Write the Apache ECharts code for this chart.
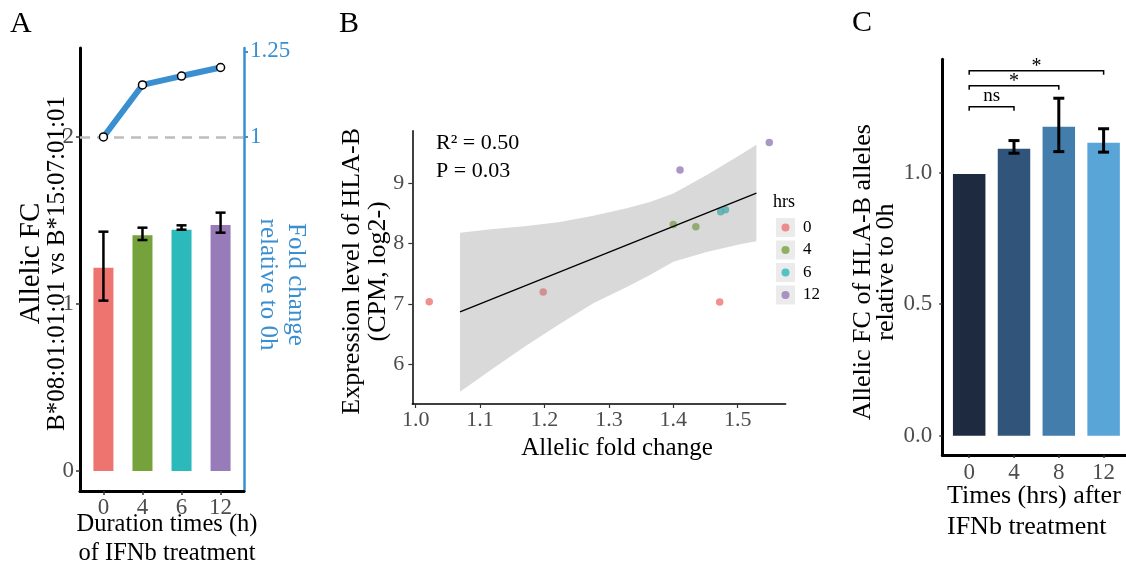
<!DOCTYPE html>
<html><head><meta charset="utf-8">
<script src="https://cdn.jsdelivr.net/npm/echarts@6/dist/echarts.min.js"></script>
<style>html,body{margin:0;padding:0;background:#fff}#c{width:1126px;height:567px}</style>
</head><body><div id="c"></div>
<script>
// ---------- Panel A data ----------
const catsA = ['0', '4', '6', '12'];
const allelicFC_A = [1.217, 1.411, 1.445, 1.473];
const errLow_A = [1.02, 1.383, 1.445, 1.427];
const errHigh_A = [1.433, 1.457, 1.471, 1.547];
const foldChange_A = [1.0, 1.152, 1.178, 1.203];
const leftTicks_A = [0, 1, 2];
const rightTicks_A = [1, 1.25];

// ---------- Panel B data ----------
const hrs_B = ['0', '4', '6', '12'];
const pts_h0 = [[1.021, 7.033], [1.198, 7.194], [1.472, 7.03]];
const pts_h4 = [[1.400, 8.316], [1.435, 8.28]];
const pts_h6 = [[1.4736, 8.528], [1.481, 8.56]];
const pts_h12 = [[1.4104, 9.22], [1.549, 9.68]];
const fitX_B = [1.0688, 1.529];
const fitY_B = [6.867, 8.839];
const bandX_B = [1.0688, 1.1205, 1.1724, 1.2241, 1.2758, 1.3276, 1.3638, 1.40, 1.4519, 1.5036, 1.529];
const bandUpper_B = [8.18, 8.24, 8.29, 8.36, 8.46, 8.585, 8.69, 8.83, 9.14, 9.47, 9.64];
const bandLower_B = [5.54, 5.93, 6.31, 6.67, 7.01, 7.28, 7.48, 7.70, 7.86, 7.99, 8.04];
const xTicks_B = [1.0, 1.1, 1.2, 1.3, 1.4, 1.5];
const yTicks_B = [6, 7, 8, 9];

// ---------- Panel C data ----------
const catsC = ['0', '4', '8', '12'];
const allelicFC_C = [0.995, 1.091, 1.175, 1.114];
const errLow_C = [null, 1.074, 1.080, 1.078];
const errHigh_C = [null, 1.122, 1.283, 1.167];
const yTicks_C = [0, 0.5, 1.0];
const sigFrom_C = [0, 0, 0];
const sigTo_C = [1, 2, 3];
const sigY_C = [1.251, 1.33, 1.387];
const sigLabel_C = ['ns', '*', '*'];

// ---------- styles ----------
const FONT = 'Liberation Serif';
const GREY = '#4d4d4d';
const BLUE = '#3a8fd0';
const paletteHrs = ['#ee7470', '#76a23b', '#2bb9bb', '#977cb9'];
const paletteC = ['#1e2a40', '#30547a', '#437dab', '#5aa5d8'];

function errBar(capHalf, lw) {
  return function (params, api) {
    const lo = api.value(1), hi = api.value(2);
    if (lo == null || isNaN(lo)) return null;
    const a = api.coord([api.value(0), lo]);
    const b = api.coord([api.value(0), hi]);
    const st = { stroke: '#000', lineWidth: lw };
    return { type: 'group', children: [
      { type: 'line', shape: { x1: a[0], y1: a[1], x2: b[0], y2: b[1] }, style: st },
      { type: 'line', shape: { x1: a[0] - capHalf, y1: a[1], x2: a[0] + capHalf, y2: a[1] }, style: st },
      { type: 'line', shape: { x1: b[0] - capHalf, y1: b[1], x2: b[0] + capHalf, y2: b[1] }, style: st }
    ] };
  };
}

function bandRender(params, api) {
  if (params.dataIndex !== 0) return null;
  const up = bandX_B.map((x, i) => api.coord([x, bandUpper_B[i]]));
  const lo = bandX_B.map((x, i) => api.coord([x, bandLower_B[i]])).reverse();
  return { type: 'polygon', shape: { points: up.concat(lo) }, style: { fill: 'rgba(150,150,150,0.36)' } };
}

function sigRender(params, api) {
  const i = params.dataIndex;
  const a = api.coord([api.value(0), api.value(2)]);
  const b = api.coord([api.value(1), api.value(2)]);
  const drop = 4;
  const lab = sigLabel_C[i];
  return { type: 'group', children: [
    { type: 'polyline', shape: { points: [[a[0], a[1] + drop], [a[0], a[1]], [b[0], b[1]], [b[0], b[1] + drop]] },
      style: { stroke: '#000', lineWidth: 1.5, fill: 'none' } },
    { type: 'text', x: (a[0] + b[0]) / 2, y: a[1] - (lab === 'ns' ? 11 : 4),
      style: { text: lab, fontFamily: FONT, fontSize: lab === 'ns' ? 19 : 20, fill: '#000', align: 'center', verticalAlign: 'middle' } }
  ] };
}

const tickLabel = (extra) => Object.assign({ fontFamily: FONT, fontSize: 23, color: GREY, lineHeight: 23 }, extra);
const lineOff = (color, width) => ({ show: true, onZero: false, lineStyle: { color, width } });

const option = {
  animation: false,
  textStyle: { fontFamily: FONT },
  title: [
    { text: 'A', left: 10, top: 9, padding: 0, textStyle: { fontFamily: FONT, fontSize: 30, lineHeight: 30, fontWeight: 'normal', color: '#000' } },
    { text: 'B', left: 339, top: 9, padding: 0, textStyle: { fontFamily: FONT, fontSize: 30, lineHeight: 30, fontWeight: 'normal', color: '#000' } },
    { text: 'C', left: 852, top: 8, padding: 0, textStyle: { fontFamily: FONT, fontSize: 30, lineHeight: 30, fontWeight: 'normal', color: '#000' } },
    { text: 'R² = 0.50\nP = 0.03', left: 436, top: 129, padding: 0, textStyle: { fontFamily: FONT, fontSize: 22, lineHeight: 28, fontWeight: 'normal', color: '#000' } },
    { text: 'hrs', left: 773, top: 193, padding: 0, textStyle: { fontFamily: FONT, fontSize: 18, lineHeight: 18, fontWeight: 'normal', color: '#000' } },
    { text: 'Times (hrs) after\nIFNb treatment', left: 947, top: 481, padding: 0, textStyle: { fontFamily: FONT, fontSize: 26, lineHeight: 31, fontWeight: 'normal', color: '#000' } }
  ],
  legend: {
    orient: 'vertical', left: 781.5, top: 218, padding: 0, itemWidth: 8, itemHeight: 8, itemGap: 3.5,
    icon: 'circle', data: hrs_B, selectedMode: false, z: 5,
    formatter: name => '\u2002' + name,
    textStyle: { fontFamily: FONT, fontSize: 17, color: '#000', lineHeight: 19 }
  },
  graphic: hrs_B.map((h, i) => ({ type: 'rect', left: 776, top: 218 + i * 22.5, z: 1,
    shape: { width: 19, height: 19 }, style: { fill: '#ebebeb' } })),
  grid: [
    { left: 80, top: 48, width: 164, height: 443, outerBoundsMode: 'none', containLabel: false },
    { left: 412.3, top: 130.7, width: 373.4, height: 273.3, outerBoundsMode: 'none', containLabel: false },
    { left: 942.3, top: 59.3, width: 188.2, height: 395.7, outerBoundsMode: 'none', containLabel: false }
  ],
  xAxis: [
    { gridIndex: 0, type: 'value', min: -0.6, max: 3.6, splitLine: { show: false },
      axisLine: lineOff('#000', 3),
      axisTick: { customValues: [0, 1, 2, 3], length: 4, lineStyle: { color: '#333', width: 1.5 } },
      axisLabel: tickLabel({ customValues: [0, 1, 2, 3], formatter: v => catsA[Math.round(v)], margin: 5 }),
      name: 'Duration times (h)\nof IFNb treatment', nameLocation: 'middle', nameGap: 19, nameMoveOverlap: false,
      nameTextStyle: { fontFamily: FONT, fontSize: 24.5, lineHeight: 29, color: '#000', padding: [0, 0, 0, 10] } },
    { gridIndex: 1, type: 'value', min: 0.9947, max: 1.5745, splitLine: { show: false },
      axisLine: lineOff('#000', 1.5),
      axisTick: { customValues: xTicks_B, length: 4, lineStyle: { color: '#333', width: 1.2 } },
      axisLabel: tickLabel({ customValues: xTicks_B, formatter: v => v.toFixed(1), margin: 5, fontSize: 22 }),
      name: 'Allelic fold change', nameLocation: 'middle', nameGap: 32, nameMoveOverlap: false,
      nameTextStyle: { fontFamily: FONT, fontSize: 25, lineHeight: 25, color: '#000', padding: [0, 0, 0, 36] } },
    { gridIndex: 2, type: 'value', min: -0.6, max: 3.6, splitLine: { show: false },
      axisLine: lineOff('#000', 3),
      axisTick: { customValues: [0, 1, 2, 3], length: 3, lineStyle: { color: '#333', width: 1.5 } },
      axisLabel: tickLabel({ customValues: [0, 1, 2, 3], formatter: v => catsC[Math.round(v)], margin: 6.5 }) }
  ],
  yAxis: [
    { gridIndex: 0, type: 'value', position: 'left', min: -0.12, max: 2.533, splitLine: { show: false },
      axisLine: lineOff('#000', 3),
      axisTick: { show: true, customValues: leftTicks_A, length: 4, lineStyle: { color: '#333', width: 1.5 } },
      axisLabel: tickLabel({ customValues: leftTicks_A, margin: 6 }),
      name: '{a|Allelic FC}\n{b|B*08:01:01:01 vs B*15:07:01:01}', nameLocation: 'middle', nameRotate: 90, nameGap: 9.5, nameMoveOverlap: false,
      nameTextStyle: { fontFamily: FONT, fontSize: 25, lineHeight: 26, color: '#000', padding: [0, 0, 0, 12],
        rich: { a: { fontFamily: FONT, fontSize: 29, lineHeight: 27, color: '#000' },
                b: { fontFamily: FONT, fontSize: 25, lineHeight: 26, color: '#000' } } } },
    { gridIndex: 0, type: 'value', position: 'right', min: -0.035, max: 1.26, splitLine: { show: false },
      axisLine: lineOff(BLUE, 2.5),
      axisTick: { show: true, customValues: rightTicks_A, length: 4, lineStyle: { color: BLUE, width: 2 } },
      axisLabel: tickLabel({ customValues: rightTicks_A, margin: 6, color: BLUE, formatter: v => String(v) }),
      name: 'Fold change\nrelative to 0h', nameLocation: 'middle', nameRotate: -90, nameGap: 9.5, nameMoveOverlap: false,
      nameTextStyle: { fontFamily: FONT, fontSize: 25, lineHeight: 28, color: BLUE, padding: [0, 0, 0, 30] } },
    { gridIndex: 1, type: 'value', min: 5.336, max: 9.874, splitLine: { show: false },
      axisLine: lineOff('#000', 1.5),
      axisTick: { show: true, customValues: yTicks_B, length: 4, lineStyle: { color: '#333', width: 1.2 } },
      axisLabel: tickLabel({ customValues: yTicks_B, margin: 8, fontSize: 22 }),
      name: 'Expression level of HLA-B\n(CPM, log2-)', nameLocation: 'middle', nameRotate: 90, nameGap: 21, nameMoveOverlap: false,
      nameTextStyle: { fontFamily: FONT, fontSize: 26, lineHeight: 26, color: '#000', padding: [0, 8, 0, 0] } },
    { gridIndex: 2, type: 'value', min: -0.0734, max: 1.431, splitLine: { show: false },
      axisLine: lineOff('#000', 3),
      axisTick: { show: true, customValues: yTicks_C, length: 3, lineStyle: { color: '#333', width: 1.5 } },
      axisLabel: tickLabel({ customValues: yTicks_C, margin: 10, formatter: v => v.toFixed(1) }),
      name: 'Allelic FC of HLA-B alleles\nrelative to 0h', nameLocation: 'middle', nameRotate: 90, nameGap: 44.5, nameMoveOverlap: false,
      nameTextStyle: { fontFamily: FONT, fontSize: 26, lineHeight: 23, color: '#000', padding: [0, 30, 0, 0] } }
  ],
  series: [
    { type: 'bar', xAxisIndex: 0, yAxisIndex: 0, barWidth: 20, z: 2,
      data: allelicFC_A.map((v, i) => ({ value: [i, v], itemStyle: { color: paletteHrs[i] } })) },
    { type: 'custom', xAxisIndex: 0, yAxisIndex: 0, z: 3, renderItem: errBar(5, 2.5),
      encode: { x: 0, y: [1, 2] }, data: catsA.map((c, i) => [i, errLow_A[i], errHigh_A[i]]) },
    { type: 'line', xAxisIndex: 0, yAxisIndex: 1, z: 4, symbol: 'circle', symbolSize: 8, showSymbol: true,
      itemStyle: { color: '#fff', borderColor: '#000', borderWidth: 1.5 },
      lineStyle: { color: BLUE, width: 6 },
      data: foldChange_A.map((v, i) => [i, v]),
      markLine: { silent: true, symbol: ['none', 'none'], label: { show: false }, z: 1,
        lineStyle: { type: [10, 7], color: '#bdbdbd', width: 2.5 }, data: [{ yAxis: 1 }] } },
    ...[pts_h0, pts_h4, pts_h6, pts_h12].map((pts, i) => ({
      type: 'scatter', name: hrs_B[i], xAxisIndex: 1, yAxisIndex: 2, z: 2, symbolSize: 7.5,
      itemStyle: { color: paletteHrs[i] }, data: pts })),
    { type: 'custom', xAxisIndex: 1, yAxisIndex: 2, z: 3, renderItem: bandRender,
      encode: { x: 0, y: [1, 2] }, data: bandX_B.map((x, i) => [x, bandLower_B[i], bandUpper_B[i]]) },
    { type: 'line', xAxisIndex: 1, yAxisIndex: 2, z: 4, symbol: 'none', lineStyle: { color: '#000', width: 1.3 },
      data: fitX_B.map((x, i) => [x, fitY_B[i]]) },
    { type: 'bar', xAxisIndex: 2, yAxisIndex: 3, barWidth: 32.5, z: 2,
      data: allelicFC_C.map((v, i) => ({ value: [i, v], itemStyle: { color: paletteC[i] } })) },
    { type: 'custom', xAxisIndex: 2, yAxisIndex: 3, z: 3, renderItem: errBar(5.5, 3),
      encode: { x: 0, y: [1, 2] }, data: catsC.map((c, i) => [i, errLow_C[i], errHigh_C[i]]) },
    { type: 'custom', xAxisIndex: 2, yAxisIndex: 3, z: 3, renderItem: sigRender,
      encode: { x: [0, 1], y: 2 }, data: sigFrom_C.map((f, i) => [f, sigTo_C[i], sigY_C[i]]) }
  ]
};

const chart = echarts.init(document.getElementById('c'), null, { renderer: 'canvas' });
chart.setOption(option);
</script>
</body></html>
